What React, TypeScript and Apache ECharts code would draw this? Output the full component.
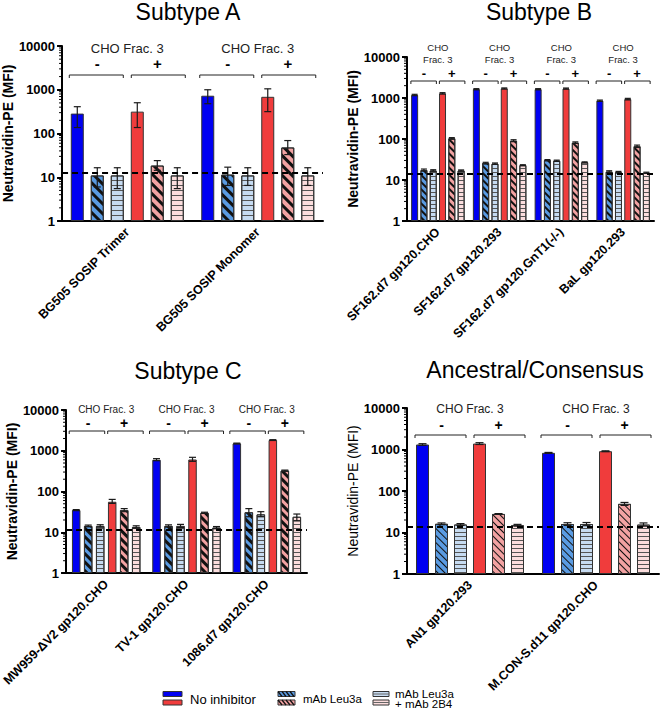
import React, { useEffect, useRef } from 'react';
import * as echarts from 'echarts';

const FONT = '"Liberation Sans", Arial, Helvetica, sans-serif';

// ---- series definitions ----
const barNames = [
  'No inhibitor (CHO Frac. 3 -)',
  'mAb Leu3a (CHO Frac. 3 -)',
  'mAb Leu3a + mAb 2B4 (CHO Frac. 3 -)',
  'No inhibitor (CHO Frac. 3 +)',
  'mAb Leu3a (CHO Frac. 3 +)',
  'mAb Leu3a + mAb 2B4 (CHO Frac. 3 +)',
];
const barColors = ['#0000f2', '#5a9be2', '#c6dbf1', '#f03c3c', '#f2a2a2', '#fbdddd'];
const barPattern = ['none', 'diag', 'horiz', 'none', 'diag', 'horiz'];

// ---- axis tick helpers ----
const decades = [1, 10, 100, 1000];
const minorSteps = [2, 3, 4, 5, 6, 7, 8, 9];

// ---- Subtype A ----
const catA = ['BG505 SOSIP Trimer', 'BG505 SOSIP Monomer'];
const valA = [[285, 730], [11, 11.5], [11, 11], [316, 690], [18.5, 48], [11, 11]];
const loA = [[137, 480], [6, 6.5], [5.5, 6.5], [137, 316], [14.4, 33], [5.5, 6.5]];
const hiA = [[410, 1000], [16.5, 17], [16.5, 16.5], [505, 1050], [24, 69], [16.5, 16.5]];
const thrA = 12.8;

// ---- Subtype B ----
const catB = ['SF162.d7 gp120.CHO', 'SF162.d7 gp120.293', 'SF162.d7 gp120.GnT1(-/-)', 'BaL gp120.293'];
const valB = [[1180, 1640, 1640, 860], [17.5, 26, 30.5, 16], [17, 25, 29.5, 15.5], [1300, 1710, 1700, 940], [104, 91, 81, 67], [17, 23, 27, 15]];
const loB = [[1140, 1590, 1590, 830], [16.5, 24.5, 29.5, 15.3], [16.4, 24, 28.5, 14.9], [1250, 1660, 1650, 900], [99, 86, 78, 62], [16.4, 22.4, 26.3, 14.5]];
const hiB = [[1230, 1690, 1690, 890], [18.5, 27, 31.5, 16.8], [17.8, 26, 30.5, 16.2], [1350, 1760, 1750, 980], [108, 96, 85, 71], [17.6, 23.6, 27.7, 15.5]];
const thrB = 14.6;

// ---- Subtype C ----
const catC = ['MW959-\u0394V2 gp120.CHO', 'TV-1 gp120.CHO', '1086.d7 gp120.CHO'];
const valC = [[35, 600, 1510], [14.3, 14.3, 31], [14.3, 14.3, 27.5], [56, 610, 1830], [35, 30, 325], [13.5, 13, 24]];
const loC = [[34, 570, 1480], [13.6, 13.4, 24], [13.3, 13, 24], [51, 550, 1790], [32, 29, 315], [12.6, 12.2, 19]];
const hiC = [[36, 640, 1540], [15, 15.2, 38], [15.3, 15.6, 32], [64, 690, 1870], [38, 31, 335], [14.4, 13.8, 28]];
const thrC = 11.4;

// ---- Ancestral/Consensus ----
const catD = ['AN1 gp120.293', 'M.CON-S.d11 gp120.CHO'];
const valD = [[1320, 830], [16.2, 16], [15.6, 16], [1390, 910], [28, 49], [15, 15.5]];
const loD = [[1260, 810], [15.4, 14.8], [14.8, 14.6], [1320, 890], [27.5, 45], [14.3, 14.2]];
const hiD = [[1380, 850], [17, 17.2], [16.4, 17.4], [1460, 930], [28.5, 53], [15.7, 17]];
const thrD = 13.7;

const fracLabel = 'CHO Frac. 3';
const fracLabelTwoLine = 'CHO\nFrac. 3';

type Panel = {
  title: string; titleX: number; titleY: number;
  cats: string[]; val: number[][]; lo: number[][]; hi: number[][]; thr: number;
  grid: { left: number; top: number; width: number; height: number };
  barW: number; step: number; cap: number;
  stripeW: number; stripeGap: number; hGap: number;
  nameGap: number; nameWeight: string;
  br: { text: string; textY: number; textSize: number; lineH: number; signY: number; signSize: number; lineY: number; tick: number; outer: number; gap: number };
};

const panels: Panel[] = [
  {
    title: 'Subtype A', titleX: 188, titleY: 0,
    cats: catA, val: valA, lo: loA, hi: hiA, thr: thrA,
    grid: { left: 59, top: 46, width: 264, height: 175 },
    barW: 13, step: 20, cap: 7, stripeW: 2.5, stripeGap: 3.5, hGap: 3.3,
    nameGap: 40, nameWeight: 'bold',
    br: { text: fracLabel, textY: 2, textSize: 13, lineH: 14, signY: 17, signSize: 15, lineY: 29, tick: 3, outer: 58, gap: 4 },
  },
  {
    title: 'Subtype B', titleX: 539, titleY: 0,
    cats: catB, val: valB, lo: loB, hi: hiB, thr: thrB,
    grid: { left: 407, top: 57, width: 247, height: 164 },
    barW: 7, step: 9.3, cap: 6, stripeW: 2, stripeGap: 3, hGap: 2.5,
    nameGap: 38, nameWeight: 'bold',
    br: { text: fracLabelTwoLine, textY: -4, textSize: 9.5, lineH: 12, signY: 16, signSize: 13, lineY: 24, tick: 3, outer: 27, gap: 1.5 },
  },
  {
    title: 'Subtype C', titleX: 188, titleY: 359,
    cats: catC, val: valC, lo: loC, hi: hiC, thr: thrC,
    grid: { left: 59, top: 410, width: 248, height: 163 },
    barW: 8.5, step: 12, cap: 7, stripeW: 2.2, stripeGap: 3, hGap: 3,
    nameGap: 45, nameWeight: 'bold',
    br: { text: fracLabel, textY: -1, textSize: 10, lineH: 12, signY: 13, signSize: 14, lineY: 21, tick: 3, outer: 37, gap: 1.5 },
  },
  {
    title: 'Ancestral/Consensus', titleX: 535, titleY: 358,
    cats: catD, val: valD, lo: loD, hi: hiD, thr: thrD,
    grid: { left: 407, top: 408, width: 252, height: 166 },
    barW: 13, step: 19, cap: 8, stripeW: 1, stripeGap: 3.5, hGap: 2.6,
    nameGap: 41, nameWeight: 'normal',
    br: { text: fracLabel, textY: 1, textSize: 12, lineH: 14, signY: 17, signSize: 14, lineY: 27, tick: 3, outer: 55, gap: 4 },
  },
];

function buildOption() {
  const grid: any[] = [];
  const xAxis: any[] = [];
  const yAxis: any[] = [];
  const series: any[] = [];
  const graphic: any[] = [];

  panels.forEach((p, pi) => {
    grid.push({ ...p.grid });
    xAxis.push({
      type: 'category', gridIndex: pi, data: p.cats,
      axisLine: { lineStyle: { color: '#000', width: 2 } },
      axisTick: { alignWithLabel: true, length: 5, interval: 0, lineStyle: { color: '#000', width: 2 } },
      axisLabel: { rotate: 45, interval: 0, fontSize: 12.5, fontWeight: 'bold', color: '#000', margin: 9, fontFamily: FONT },
    });
    yAxis.push({
      type: 'log', gridIndex: pi, min: 1, max: 10000, logBase: 10,
      name: 'Neutravidin-PE (MFI)', nameLocation: 'middle', nameGap: p.nameGap,
      nameTextStyle: { fontSize: 14, fontWeight: p.nameWeight, color: '#000', fontFamily: FONT },
      axisLine: { show: true, lineStyle: { color: '#000', width: 2 } },
      axisTick: { show: true, length: 5, lineStyle: { color: '#000', width: 2 } },
      axisLabel: { fontSize: 13, fontWeight: 'bold', color: '#000', margin: 7, fontFamily: FONT, formatter: (v: number) => String(Math.round(v)) },
      splitLine: { show: false },
    });

    const gapPct = ((p.step - p.barW) / p.barW) * 100 + '%';
    barNames.forEach((name, si) => {
      const pat = barPattern[si];
      let decal: any = undefined;
      if (pat === 'diag') {
        decal = { symbol: 'rect', symbolSize: 1, dashArrayX: [1, 0], dashArrayY: [p.stripeW, p.stripeGap], rotation: Math.PI / 4, color: '#111' };
      } else if (pat === 'horiz') {
        decal = { symbol: 'rect', symbolSize: 1, dashArrayX: [1, 0], dashArrayY: [1, p.hGap], rotation: 0, color: '#555' };
      }
      const s: any = {
        type: 'bar', name, xAxisIndex: pi, yAxisIndex: pi,
        data: p.val[si], barWidth: p.barW, barGap: gapPct, z: 2,
        itemStyle: { color: barColors[si], borderColor: '#333', borderWidth: 1, decal },
      };
      if (si === 0) {
        s.markLine = {
          silent: true, symbol: 'none', z: 6,
          label: { show: false },
          lineStyle: { type: [6, 4], color: '#000', width: 2 },
          data: [{ yAxis: p.thr }],
        };
      }
      series.push(s);
    });

    // error bars
    const errData: number[][] = [];
    for (let si = 0; si < 6; si++) {
      for (let c = 0; c < p.cats.length; c++) {
        errData.push([c, si, p.lo[si][c], p.hi[si][c]]);
      }
    }
    series.push({
      type: 'custom', xAxisIndex: pi, yAxisIndex: pi, z: 4, clip: false,
      encode: { x: 0, y: 3 },
      data: errData,
      renderItem: (params: any, api: any) => {
        const cat = api.value(0);
        const si = api.value(1);
        const top = api.coord([cat, api.value(3)]);
        const bot = api.coord([cat, api.value(2)]);
        const x = top[0] + (si - 2.5) * p.step;
        const h = p.cap / 2;
        const st = { stroke: '#1a1a1a', lineWidth: 1.2 };
        return {
          type: 'group',
          children: [
            { type: 'line', shape: { x1: x, y1: top[1], x2: x, y2: bot[1] }, style: st },
            { type: 'line', shape: { x1: x - h, y1: top[1], x2: x + h, y2: top[1] }, style: st },
            { type: 'line', shape: { x1: x - h, y1: bot[1], x2: x + h, y2: bot[1] }, style: st },
          ],
        };
      },
    });

    // bracket annotations
    series.push({
      type: 'custom', xAxisIndex: pi, yAxisIndex: pi, z: 4, clip: false, silent: true,
      encode: { x: 0, y: 1 },
      data: p.cats.map((_, c) => [c, 10000]),
      renderItem: (params: any, api: any) => {
        const pt = api.coord([api.value(0), api.value(1)]);
        const cx = pt[0];
        const top = pt[1];
        const b = p.br;
        const ly = top + b.lineY;
        const lc = cx - 1.5 * p.step;
        const rc = cx + 1.5 * p.step;
        const lst = { stroke: '#222', lineWidth: 1, fill: 'none' };
        return {
          type: 'group',
          children: [
            { type: 'text', x: cx, y: top + b.textY, style: { text: b.text, font: `${b.textSize}px ${FONT}`, fill: '#222', align: 'center', verticalAlign: 'middle', textAlign: 'center', textVerticalAlign: 'middle', lineHeight: b.lineH } },
            { type: 'text', x: lc, y: top + b.signY, style: { text: '-', font: `bold ${b.signSize}px ${FONT}`, fill: '#000', align: 'center', verticalAlign: 'middle', textAlign: 'center', textVerticalAlign: 'middle' } },
            { type: 'text', x: rc, y: top + b.signY, style: { text: '+', font: `bold ${b.signSize}px ${FONT}`, fill: '#000', align: 'center', verticalAlign: 'middle', textAlign: 'center', textVerticalAlign: 'middle' } },
            { type: 'polyline', shape: { points: [[cx - b.outer, ly + b.tick], [cx - b.outer, ly], [cx - b.gap, ly], [cx - b.gap, ly + b.tick]] }, style: lst },
            { type: 'polyline', shape: { points: [[cx + b.gap, ly + b.tick], [cx + b.gap, ly], [cx + b.outer, ly], [cx + b.outer, ly + b.tick]] }, style: lst },
          ],
        };
      },
    });

    // minor log ticks
    series.push({
      type: 'custom', xAxisIndex: pi, yAxisIndex: pi, z: 4, clip: false, silent: true,
      encode: { x: 0, y: 1 },
      data: decades.map((d) => [0, d]),
      renderItem: (params: any, api: any) => {
        const x0 = params.coordSys.x;
        const d = api.value(1);
        return {
          type: 'group',
          children: minorSteps.map((k) => {
            const y = api.coord([0, d * k])[1];
            return { type: 'line', shape: { x1: x0 - 3, y1: y, x2: x0, y2: y }, style: { stroke: '#000', lineWidth: 1 } };
          }),
        };
      },
    });

    graphic.push({
      type: 'text', x: p.titleX, y: p.titleY,
      style: { text: p.title, font: `23px ${FONT}`, fill: '#000', align: 'center', verticalAlign: 'top', textAlign: 'center', textVerticalAlign: 'top' },
    });
  });

  // legend (drawn)
  const sw = (x: number, y: number, w: number, color: string) => ({
    type: 'rect', shape: { x, y, width: w, height: 5 }, style: { fill: color, stroke: '#333', lineWidth: 1 },
  });
  const diagLines = (x: number, y: number, w: number) => {
    const out: any[] = [];
    for (let i = 0; i * 4 + 3 <= w; i++) {
      out.push({ type: 'line', shape: { x1: x + i * 4, y1: y, x2: x + i * 4 + 4, y2: y + 5 }, style: { stroke: '#111', lineWidth: 1.3 } });
    }
    return out;
  };
  graphic.push(
    sw(163, 691.5, 19, barColors[0]),
    sw(163, 700, 19, barColors[3]),
    { type: 'text', x: 190, y: 699, style: { text: 'No inhibitor', font: `13px ${FONT}`, fill: '#000', align: 'left', verticalAlign: 'middle', textAlign: 'left', textVerticalAlign: 'middle' } },
    sw(278, 691.5, 17, barColors[1]),
    sw(278, 700, 17, barColors[4]),
    ...diagLines(278, 691.5, 17),
    ...diagLines(278, 700, 17),
    { type: 'text', x: 303, y: 699, style: { text: 'mAb Leu3a', font: `11.5px ${FONT}`, fill: '#000', align: 'left', verticalAlign: 'middle', textAlign: 'left', textVerticalAlign: 'middle' } },
    sw(373, 691.5, 16, barColors[2]),
    sw(373, 700, 16, barColors[5]),
    { type: 'line', shape: { x1: 373, y1: 694, x2: 389, y2: 694 }, style: { stroke: '#666', lineWidth: 1 } },
    { type: 'line', shape: { x1: 373, y1: 702.5, x2: 389, y2: 702.5 }, style: { stroke: '#666', lineWidth: 1 } },
    { type: 'text', x: 395, y: 693.5, style: { text: 'mAb Leu3a', font: `11.5px ${FONT}`, fill: '#000', align: 'left', verticalAlign: 'middle', textAlign: 'left', textVerticalAlign: 'middle' } },
    { type: 'text', x: 395, y: 704, style: { text: '+ mAb 2B4', font: `11.5px ${FONT}`, fill: '#000', align: 'left', verticalAlign: 'middle', textAlign: 'left', textVerticalAlign: 'middle' } },
  );

  return {
    animation: false,
    backgroundColor: '#fff',
    textStyle: { fontFamily: FONT },
    grid, xAxis, yAxis, series, graphic,
  };
}

export default function App() {
  const ref = useRef<HTMLDivElement>(null);
  useEffect(() => {
    if (!ref.current) return;
    const chart = echarts.init(ref.current, undefined, { renderer: 'svg' });
    chart.setOption(buildOption() as any);
    return () => chart.dispose();
  }, []);
  return <div ref={ref} style={{ position: 'fixed', left: 0, top: 0, width: 660, height: 711 }} />;
}
